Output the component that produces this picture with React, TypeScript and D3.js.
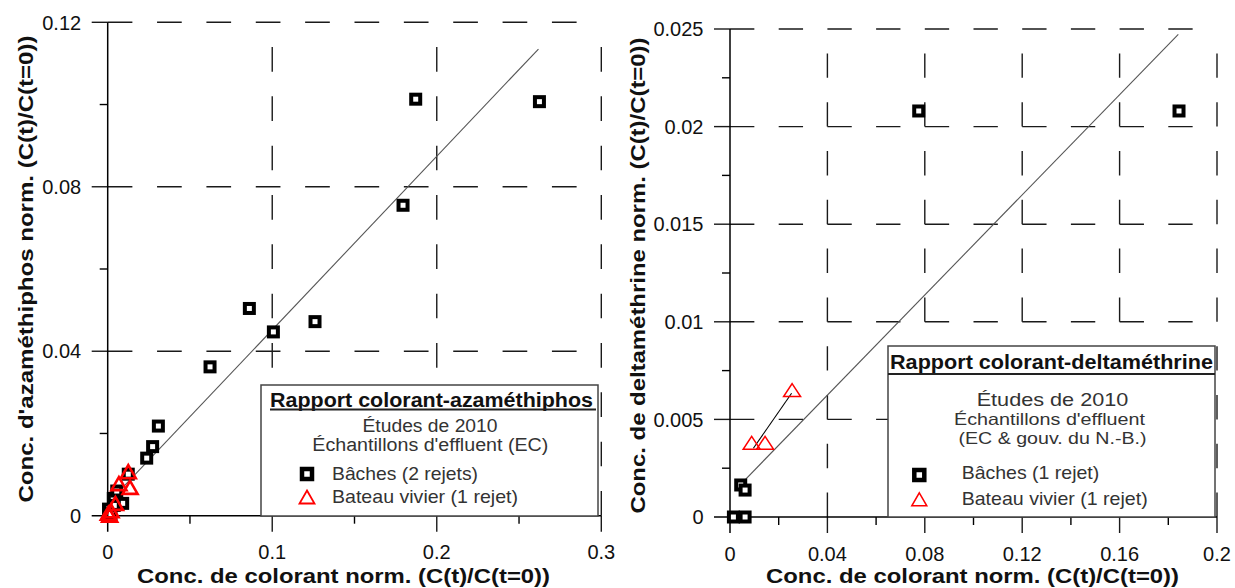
import React from "react";
import * as d3 from "d3";

// ---------- Data: left panel (azaméthiphos) ----------
const leftSquareX = [0.2624, 0.1872, 0.1795, 0.0861, 0.1007, 0.126, 0.0622, 0.0308, 0.0273, 0.0237, 0.0125, 0.0091, 0.0034, 0.0055, 0.0005, 0.002, 0.004];
const leftSquareY = [0.1007, 0.1013, 0.0755, 0.0504, 0.0447, 0.0472, 0.0362, 0.0218, 0.0168, 0.014, 0.0101, 0.003, 0.0042, 0.006, 0.0016, 0.0005, 0.0025];
const leftTriX = [0.0125, 0.0136, 0.0068, 0.0047, 0.0004, 0.0012, 0.002];
const leftTriY = [0.0107, 0.0069, 0.0078, 0.003, 0.0006, 0.0001, 0.0012];
const leftFitX = [0.001, 0.2618];
const leftFitY = [0.0034, 0.1135];

// ---------- Data: right panel (deltaméthrine) ----------
const rightSquareX = [0.0775, 0.1844, 0.0044, 0.0062, 0.0014, 0.0062];
const rightSquareY = [0.0208, 0.0208, 0.00164, 0.00138, 0, 0];
const rightTriX = [0.0089, 0.0144, 0.0255];
const rightTriY = [0.0038, 0.0038, 0.0065];
const rightFitX = [0.0021, 0.1841];
const rightFitY = [0.00138, 0.02473];
const rightTriLinkX = [0.0096, 0.0253];
const rightTriLinkY = [0.00352, 0.00634];

// ---------- Ticks ----------
const leftXMajor = [0, 0.1, 0.2, 0.3];
const leftXLabels = ["0", "0.1", "0.2", "0.3"];
const leftXMinor = [0.05, 0.15, 0.25];
const leftYMajor = [0, 0.04, 0.08, 0.12];
const leftYLabels = ["0", "0.04", "0.08", "0.12"];
const leftYMinor = [0.02, 0.06, 0.1];

const rightXMajor = [0, 0.04, 0.08, 0.12, 0.16, 0.2];
const rightXLabels = ["0", "0.04", "0.08", "0.12", "0.16", "0.2"];
const rightXMinor = [0.02, 0.06, 0.1, 0.14, 0.18];
const rightYMajor = [0, 0.005, 0.01, 0.015, 0.02, 0.025];
const rightYLabels = ["0", "0.005", "0.01", "0.015", "0.02", "0.025"];
const rightYMinor = [0.0025, 0.0075, 0.0125, 0.0175, 0.0225];

const xTitle = "Conc. de colorant norm. (C(t)/C(t=0))";
const leftYTitle = "Conc. d'azaméthiphos norm. (C(t)/C(t=0))";
const rightYTitle = "Conc. de deltaméthrine norm. (C(t)/C(t=0))";

const FONT = "'Liberation Sans', Arial, Helvetica, sans-serif";
const RED = "#ff0000";

function triPath(cx: number, cy: number, w: number, h: number) {
  return `M${cx},${cy - h / 2}L${cx + w / 2},${cy + h / 2}L${cx - w / 2},${cy + h / 2}Z`;
}

function Square({ cx, cy, s = 9, sw = 4 }: any) {
  return <rect x={cx - s / 2} y={cy - s / 2} width={s} height={s} fill="#fff" stroke="#000" strokeWidth={sw} />;
}

function Panel(props: any) {
  const { xDomain, yDomain, xRange, yRange, xMajor, xLabels, xMinor, yMajor, yLabels, yMinor,
    sqX, sqY, trX, trY, fitX, fitY, triW, triH, triSW, yTitle, yTitleX, yTitleY, yTitleLen, xTitleX, xTitleLen, children } = props;
  const x = d3.scaleLinear().domain(xDomain).range(xRange);
  const y = d3.scaleLinear().domain(yDomain).range(yRange);
  const x0 = x(xDomain[0]), x1 = x(xDomain[1]);
  const y0 = y(yDomain[0]), y1 = y(yDomain[1]);
  const dH = (x1 - x0) / 20;
  const dV = (y0 - y1) / 20;
  const line = d3.line<[number, number]>().x((d) => x(d[0])).y((d) => y(d[1]));
  const gridColor = "#1a1a1a";
  return (
    <g>
      {yMajor.filter((v: number) => v !== 0).map((v: number) => (
        <g key={"hg" + v}>
          <line x1={x0} x2={x1} y1={y(v)} y2={y(v)} stroke={gridColor} strokeWidth={1.4} strokeDasharray={`${dH},${dH}`} />
          <line x1={x0 - 16} x2={x0} y1={y(v)} y2={y(v)} stroke={gridColor} strokeWidth={1.4} />
        </g>
      ))}
      {xMajor.filter((v: number) => v !== 0).map((v: number) => (
        <g key={"vg" + v}>
          <line x1={x(v)} x2={x(v)} y1={y0} y2={y1} stroke={gridColor} strokeWidth={1.4} strokeDasharray={`${dV},${dV}`} />
          <line x1={x(v)} x2={x(v)} y1={y0} y2={y0 + 16} stroke={gridColor} strokeWidth={1.4} />
        </g>
      ))}
      <line x1={x0 - 16} x2={x1} y1={y0} y2={y0} stroke="#000" strokeWidth={1.5} />
      <line x1={x0} x2={x0} y1={y0 + 16} y2={y1} stroke="#000" strokeWidth={1.5} />
      {xMinor.map((v: number) => (
        <line key={"xm" + v} x1={x(v)} x2={x(v)} y1={y0} y2={y0 + 8} stroke="#000" strokeWidth={1.4} />
      ))}
      {yMinor.map((v: number) => (
        <line key={"ym" + v} x1={x0 - 8} x2={x0} y1={y(v)} y2={y(v)} stroke="#000" strokeWidth={1.4} />
      ))}
      {xMajor.map((v: number, i: number) => (
        <text key={"xl" + v} x={x(v)} y={y0 + 43.5} textAnchor="middle" fontSize={20} fontFamily={FONT} fill="#111">{xLabels[i]}</text>
      ))}
      {yMajor.map((v: number, i: number) => (
        <text key={"yl" + v} x={x0 - 26.5} y={y(v) + 7.2} textAnchor="end" fontSize={20} fontFamily={FONT} fill="#111">{yLabels[i]}</text>
      ))}
      <text x={xTitleX} y={582.5} textAnchor="middle" fontSize={21} fontWeight="bold" fontFamily={FONT} fill="#111"
        textLength={xTitleLen} lengthAdjust="spacingAndGlyphs">{xTitle}</text>
      <text transform={`translate(${yTitleX},${yTitleY}) rotate(-90)`} y={7.5} textAnchor="middle" fontSize={21} fontWeight="bold"
        fontFamily={FONT} fill="#111" textLength={yTitleLen} lengthAdjust="spacingAndGlyphs">{yTitle}</text>
      <path d={line(fitX.map((v: number, i: number) => [v, fitY[i]]) as any) || ""} fill="none" stroke="#555" strokeWidth={1.1} />
      {children && children(x, y, line)}
      {sqX.map((v: number, i: number) => (
        <Square key={"sq" + i} cx={x(v)} cy={y(sqY[i])} />
      ))}
      {trX.map((v: number, i: number) => (
        <path key={"tr" + i} d={triPath(x(v), y(trY[i]), triW, triH)} fill="none" stroke={RED} strokeWidth={triSW} strokeLinejoin="miter" />
      ))}
    </g>
  );
}

export default function App() {
  return (
    <svg width={1235} height={588} viewBox="0 0 1235 588" style={{ position: "absolute", left: 0, top: 0, background: "#fff" }}>
      <rect width={1235} height={588} fill="#fff" />
      <Panel
        xDomain={[0, 0.3]} yDomain={[0, 0.12]} xRange={[107.7, 601.3]} yRange={[515.7, 22.3]}
        xMajor={leftXMajor} xLabels={leftXLabels} xMinor={leftXMinor}
        yMajor={leftYMajor} yLabels={leftYLabels} yMinor={leftYMinor}
        sqX={leftSquareX} sqY={leftSquareY} trX={leftTriX} trY={leftTriY}
        fitX={leftFitX} fitY={leftFitY} triW={15} triH={13} triSW={2.6}
        yTitle={leftYTitle} yTitleX={25} yTitleY={269} yTitleLen={467}
        xTitleX={343.5} xTitleLen={413}
      />
      <Panel
        xDomain={[0, 0.2]} yDomain={[0, 0.025]} xRange={[730, 1217]} yRange={[517, 29]}
        xMajor={rightXMajor} xLabels={rightXLabels} xMinor={rightXMinor}
        yMajor={rightYMajor} yLabels={rightYLabels} yMinor={rightYMinor}
        sqX={rightSquareX} sqY={rightSquareY} trX={rightTriX} trY={rightTriY}
        fitX={rightFitX} fitY={rightFitY} triW={17} triH={13} triSW={1.5}
        yTitle={rightYTitle} yTitleX={637.6} yTitleY={275.5} yTitleLen={476}
        xTitleX={972.5} xTitleLen={413}
      >
        {(x: any, y: any, line: any) => (
          <path d={line(rightTriLinkX.map((v, i) => [v, rightTriLinkY[i]]))} fill="none" stroke="#000" strokeWidth={1.1} />
        )}
      </Panel>

      {/* Left legend */}
      <g fontFamily={FONT}>
        <rect x={261} y={385} width={337} height={131} fill="#fff" stroke="#444" strokeWidth={1.5} />
        <text x={270} y={406.5} fontSize={20} fontWeight="bold" fill="#111" textLength={323} lengthAdjust="spacingAndGlyphs">Rapport colorant-azaméthiphos</text>
        <line x1={270} x2={596} y1={409.5} y2={409.5} stroke="#222" strokeWidth={2} />
        <text x={430} y={432} textAnchor="middle" fontSize={18} fill="#333" textLength={135} lengthAdjust="spacingAndGlyphs">Études de 2010</text>
        <text x={430.3} y={450.7} textAnchor="middle" fontSize={18} fill="#333" textLength={236} lengthAdjust="spacingAndGlyphs">Échantillons d'effluent (EC)</text>
        <Square cx={307} cy={474} s={10} sw={4.5} />
        <text x={332} y={480} fontSize={18.5} fill="#333" textLength={146} lengthAdjust="spacingAndGlyphs">Bâches (2 rejets)</text>
        <path d={triPath(307, 497, 15, 13)} fill="none" stroke={RED} strokeWidth={1.8} />
        <text x={332} y={503.3} fontSize={18.5} fill="#333" textLength={186} lengthAdjust="spacingAndGlyphs">Bateau vivier (1 rejet)</text>
      </g>

      {/* Right legend */}
      <g fontFamily={FONT}>
        <rect x={888} y={346} width={327} height={171} fill="#fff" stroke="#444" strokeWidth={1.5} />
        <text x={890} y={368.5} fontSize={20} fontWeight="bold" fill="#111" textLength={323} lengthAdjust="spacingAndGlyphs">Rapport colorant-deltaméthrine</text>
        <line x1={888} x2={1215} y1={374} y2={374} stroke="#222" strokeWidth={2} />
        <text x={1052.5} y={406} textAnchor="middle" fontSize={18.5} fill="#333" textLength={151.7} lengthAdjust="spacingAndGlyphs">Études de 2010</text>
        <text x={1049.5} y={425} textAnchor="middle" fontSize={16.5} fill="#333" textLength={191} lengthAdjust="spacingAndGlyphs">Échantillons d'effluent</text>
        <text x={1052.5} y={443.5} textAnchor="middle" fontSize={16.5} fill="#333" textLength={188} lengthAdjust="spacingAndGlyphs">(EC &amp; gouv. du N.-B.)</text>
        <Square cx={919.3} cy={475} s={10} sw={4.5} />
        <text x={961.7} y={479.3} fontSize={18.5} fill="#333" textLength={137.6} lengthAdjust="spacingAndGlyphs">Bâches (1 rejet)</text>
        <path d={triPath(919.3, 499.3, 15, 13)} fill="none" stroke={RED} strokeWidth={1.5} />
        <text x={961.7} y={505} fontSize={18.5} fill="#333" textLength={186} lengthAdjust="spacingAndGlyphs">Bateau vivier (1 rejet)</text>
      </g>
    </svg>
  );
}
